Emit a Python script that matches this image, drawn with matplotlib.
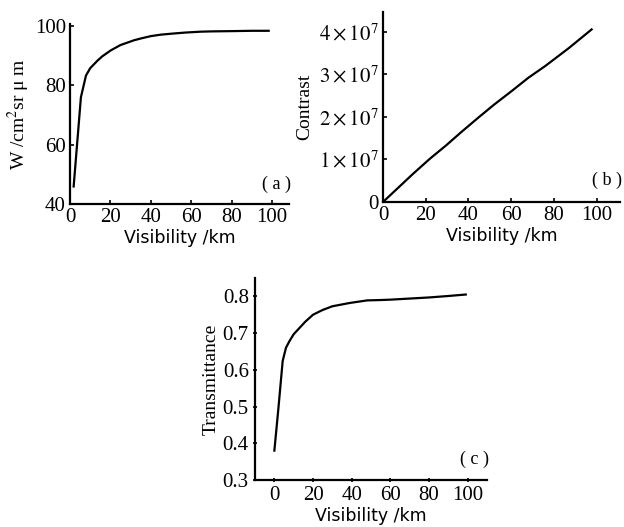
import matplotlib
matplotlib.use("Agg")
import matplotlib.pyplot as plt

# Values
vis_a = [1.8, 5.4, 7.9, 10, 13.7, 16, 20.2, 25, 31.7, 35, 40, 45, 51.5, 57, 64.6, 70, 81, 90, 98.4]
radiance = [45.9, 76, 83.3, 85.8, 88.4, 89.8, 91.8, 93.6, 95.2, 95.8, 96.6, 97.1, 97.5, 97.8, 98.1, 98.2, 98.3, 98.4, 98.4]

vis_b = [0, 7, 14, 22, 29.5, 37, 45, 52, 60.5, 68, 76, 87, 97.7]
contrast = [0, 0.33e7, 0.66e7, 1.02e7, 1.33e7, 1.66e7, 2.0e7, 2.29e7, 2.62e7, 2.92e7, 3.2e7, 3.62e7, 4.06e7]

vis_c = [0, 2, 4.3, 6, 7.8, 10, 13, 16, 20, 25, 30, 35, 39, 48, 55, 60, 70, 80, 90, 99]
transmittance = [0.38, 0.49, 0.624, 0.66, 0.678, 0.697, 0.714, 0.731, 0.75, 0.763, 0.773, 0.778,
                 0.782, 0.789, 0.79, 0.791, 0.794, 0.797, 0.801, 0.805]

x_ticks = [0, 20, 40, 60, 80, 100]
b_yticks = [0, 1e7, 2e7, 3e7, 4e7]
b_ylabels = ["0", r"$1\times10^7$", r"$2\times10^7$", r"$3\times10^7$", r"$4\times10^7$"]
c_yticks = [0.3, 0.4, 0.5, 0.6, 0.7, 0.8]

plt.rcParams["font.family"] = "Liberation Serif"
plt.rcParams["mathtext.fontset"] = "stix"

SERIF = 15
SANS = "DejaVu Sans"

fig = plt.figure(figsize=(6.24, 5.27), dpi=100)


def style(ax, direction="in"):
  ax.spines["top"].set_visible(False)
  ax.spines["right"].set_visible(False)
  ax.spines["left"].set_linewidth(1.6)
  ax.spines["bottom"].set_linewidth(1.6)
  ax.tick_params(direction=direction, length=3, width=1.2, labelsize=SERIF, pad=3)
  ax.set_xlabel("Visibility /km", family=SANS, fontsize=12.5, labelpad=1)


def panel_tag(ax, x, y, tag):
  ax.text(x, y, "( {} )".format(tag), transform=ax.transAxes, fontsize=13,
          ha="center", va="center")


#--- (a) ----------------------------------------------------------------------
ax_a = fig.add_axes([0.1122, 0.6129, 0.3510, 0.3416])
ax_a.plot(vis_a, radiance, color="black", lw=1.6)
ax_a.set_xlim(0, 108.5)
ax_a.set_ylim(40, 100.7)
ax_a.set_xticks(x_ticks)
ax_a.set_yticks([40, 60, 80, 100])
style(ax_a)
ax_a.set_ylabel("W /cm$^2$sr μ m", fontsize=14, labelpad=2)
panel_tag(ax_a, 0.943, 0.11, "a")

#--- (b) ----------------------------------------------------------------------
ax_b = fig.add_axes([0.6138, 0.6167, 0.3798, 0.3605])
ax_b.plot(vis_b, contrast, color="black", lw=1.6)
ax_b.set_xlim(0, 111)
ax_b.set_ylim(0, 4.47e7)
ax_b.set_xticks(x_ticks)
ax_b.set_yticks(b_yticks)
ax_b.set_yticklabels(b_ylabels)
style(ax_b)
ax_b.set_ylabel("Contrast", fontsize=14, labelpad=4)
panel_tag(ax_b, 0.945, 0.116, "b")

#--- (c) ----------------------------------------------------------------------
ax_c = fig.add_axes([0.4087, 0.0892, 0.3718, 0.3833])
ax_c.plot(vis_c, transmittance, color="black", lw=1.6)
ax_c.set_xlim(-10, 110)
ax_c.set_ylim(0.3, 0.85)
ax_c.set_xticks(x_ticks)
ax_c.set_yticks(c_yticks)
ax_c.set_yticklabels(["{:.1f}".format(v) for v in c_yticks])
style(ax_c, direction="inout")
ax_c.set_ylabel("Transmittance", fontsize=14, labelpad=2)
panel_tag(ax_c, 0.944, 0.103, "c")

fig.savefig("out.png", dpi=100)
